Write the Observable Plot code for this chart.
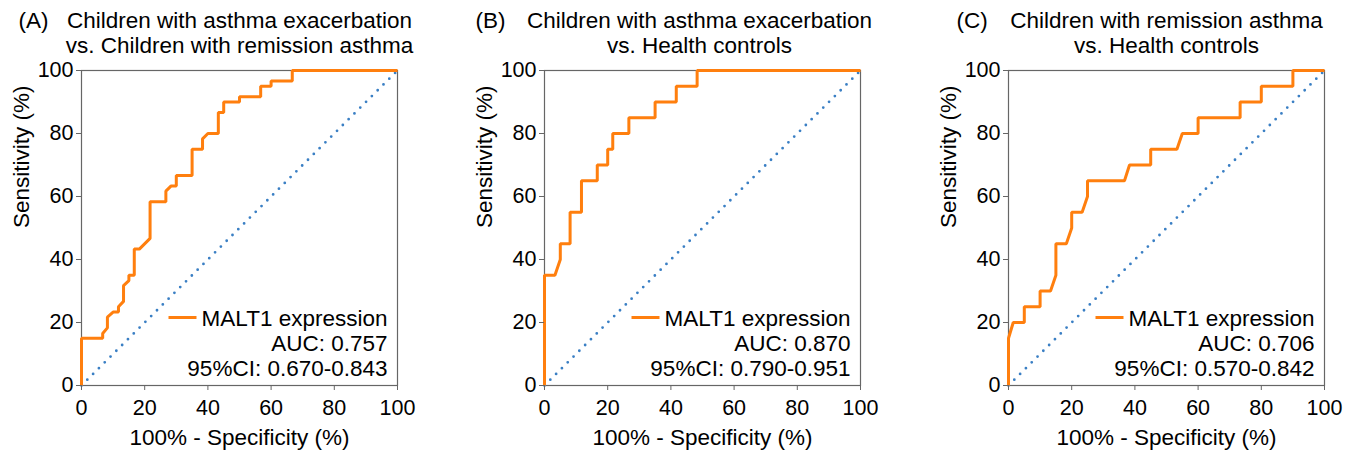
<!DOCTYPE html>
<html><head><meta charset="utf-8">
<script src="https://cdn.jsdelivr.net/npm/d3@7"></script>
<script src="https://cdn.jsdelivr.net/npm/@observablehq/plot@0.6"></script>
<style>
body{margin:0;background:#fff;}
#wrap{position:relative;width:1354px;height:452px;overflow:hidden;background:#fff;}
#wrap > svg{position:absolute;top:0;}
</style></head><body><div id="wrap"></div>
<script>
// ---- data ----
const tickValues = [0, 20, 40, 60, 80, 100];
const diagX = [0, 100];
const diagY = [0, 100];

// Panel A: exacerbation vs remission
const aFpr = [0,0,6.7,6.7,8.2,8.2,10,11.7,11.7,13.3,13.3,15,15,16.7,16.7,18.3,21.7,21.7,26.7,26.7,28.3,30,30,35,35,38.3,38.3,40,43.3,43.3,45,45,50,50,56.7,56.7,60,60,66.7,66.7,100];
const aTpr = [0,15,15,16.5,18.3,21.7,23.3,23.3,25,26.7,31.7,33.3,35,35,43.3,43.3,46.7,58.3,58.3,61.7,63.3,63.3,66.7,66.7,75,75,78.3,80,80,86.7,86.7,90,90,91.7,91.7,95,95,96.7,96.7,100,100];

// Panel B: exacerbation vs health controls
const bFpr = [0,0,3.3,5,5,8.1,8.1,11.7,11.7,16.7,16.7,20,20,21.6,21.6,26.7,26.7,35,35,41.7,41.7,48.3,48.3,100];
const bTpr = [0,35,35,40,45,45,55,55,65,65,70,70,75,75,80,80,85,85,90,90,95,95,100,100];

// Panel C: remission vs health controls
const cFpr = [0,0,1.5,5,5,10,10,13.3,15,15,18.3,20,20,23.3,25,25,36.7,38.3,45,45,53.3,55,60,60,73.3,73.3,80,80,90,90,100];
const cTpr = [0,15,20,20,25,25,30,30,35,45,45,50,55,55,60,65,65,70,70,75,75,80,80,85,85,90,90,95,95,100,100];

const panelLetters = ["(A)", "(B)", "(C)"];
const titleLine1 = ["Children with asthma exacerbation", "Children with asthma exacerbation", "Children with remission asthma"];
const titleLine2 = ["vs. Children with remission asthma", "vs. Health controls", "vs. Health controls"];
const legendLabel = "MALT1 expression";
const aucValues = ["0.757", "0.870", "0.706"];
const ciValues = ["0.670-0.843", "0.790-0.951", "0.570-0.842"];
const xLabel = "100% - Specificity (%)";
const yLabel = "Sensitivity (%)";

// ---- layout / style ----
const orange = "#ff7f0e";
const blue = "#3a7fc4";
const axisGray = "#666";
const font = "'Liberation Sans', Arial, Helvetica, sans-serif";
const panelLeft = [0, 463, 927];
const panelWidth = [463, 463, 427];
const letterDx = [-63, -69, -52];
const titleDx = [0, -3, 0];

const curves = [[aFpr, aTpr], [bFpr, bTpr], [cFpr, cTpr]];
const swatch = {draw(ctx) { ctx.moveTo(-14, 0); ctx.lineTo(14, 0); }};

const wrap = document.getElementById("wrap");

curves.forEach(([fx, ty], i) => {
  const pts = fx.map((x, k) => ({x, y: ty[k]}));
  const diag = diagX.map((x, k) => ({x, y: diagY[k]}));
  const txt = (s, o) => Plot.text([s], {text: d => d, fontSize: 22.5, fill: "#000", ...o});
  const chart = Plot.plot({
    width: panelWidth[i],
    height: 452,
    marginLeft: 81,
    marginRight: panelWidth[i] - 81 - 316,
    marginTop: 70,
    marginBottom: 67,
    style: {fontFamily: font, fontSize: "21px", color: "#000", background: "transparent", overflow: "visible"},
    x: {domain: [0, 100]},
    y: {domain: [0, 100]},
    marks: [
      Plot.frame({stroke: axisGray, strokeWidth: 1.2}),
      Plot.line(diag, {x: "x", y: "y", stroke: blue, strokeWidth: 2.8, strokeDasharray: "0 8.2", strokeLinecap: "round"}),
      Plot.line(pts, {x: "x", y: "y", stroke: orange, strokeWidth: 3, strokeLinejoin: "miter", strokeLinecap: "butt", curve: "linear"}),
      Plot.axisY({ticks: tickValues, tickSize: 5, tickPadding: 3, stroke: axisGray, fill: "#000", fontSize: 21.5, label: null}),
      Plot.axisX({ticks: tickValues, tickSize: 5, tickPadding: 9, stroke: axisGray, fill: "#000", fontSize: 21.5, label: null}),
      txt(xLabel, {frameAnchor: "bottom", dy: 59, lineAnchor: "bottom"}),
      txt(yLabel, {frameAnchor: "left", dx: -53, rotate: -90, lineAnchor: "bottom"}),
      txt(titleLine1[i], {frameAnchor: "top", dx: titleDx[i], dy: -43, lineAnchor: "bottom"}),
      txt(titleLine2[i], {frameAnchor: "top", dx: titleDx[i], dy: -18, lineAnchor: "bottom"}),
      txt(panelLetters[i], {frameAnchor: "top-left", dx: letterDx[i], dy: -43, lineAnchor: "bottom", textAnchor: "start"}),
      txt(legendLabel, {frameAnchor: "bottom-right", dx: -10, dy: -60, lineAnchor: "bottom", textAnchor: "end"}),
      txt("AUC: " + aucValues[i], {frameAnchor: "bottom-right", dx: -10, dy: -35, lineAnchor: "bottom", textAnchor: "end"}),
      txt("95%CI: " + ciValues[i], {frameAnchor: "bottom-right", dx: -10, dy: -10, lineAnchor: "bottom", textAnchor: "end"}),
      Plot.dot([legendLabel], {frameAnchor: "bottom-right", dx: -215, dy: -68, symbol: swatch, stroke: orange, strokeWidth: 3, fill: "none"})
    ]
  });
  chart.style.left = panelLeft[i] + "px";
  wrap.appendChild(chart);
});
</script>
</body></html>
